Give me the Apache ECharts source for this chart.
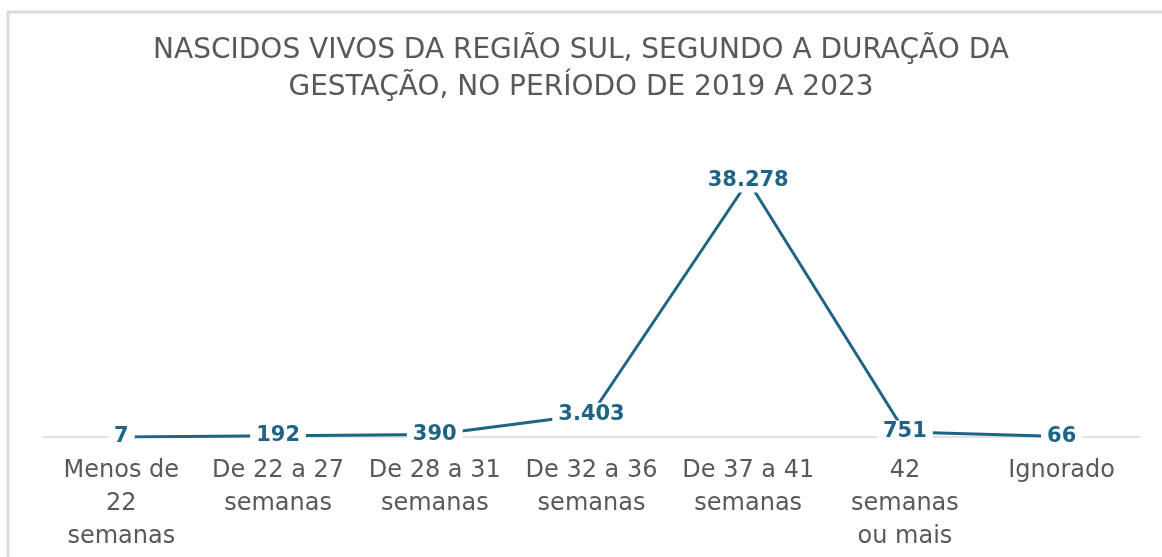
<!DOCTYPE html>
<html>
<head>
<meta charset="utf-8">
<script src="https://cdn.jsdelivr.net/npm/echarts@6/dist/echarts.min.js"></script>
<style>
  html, body { margin: 0; padding: 0; background: #ffffff; }
  #chart { width: 1162px; height: 557px; }
</style>
</head>
<body>
<div id="chart"></div>
<script>
  // categorias (duração da gestação)
  var categorias = [
    'Menos de\n22\nsemanas',
    'De 22 a 27\nsemanas',
    'De 28 a 31\nsemanas',
    'De 32 a 36\nsemanas',
    'De 37 a 41\nsemanas',
    '42\nsemanas\nou mais',
    'Ignorado'
  ];
  // nascidos vivos
  var nascidos = [7, 192, 390, 3403, 38278, 751, 66];

  var azul = '#1f6385';

  // separador de milhar com ponto
  function formatar(v) {
    return String(v).replace(/\B(?=(\d{3})+(?!\d))/g, '.');
  }

  var chart = echarts.init(document.getElementById('chart'));

  var option = {
    backgroundColor: '#ffffff',
    animation: false,
    // moldura
    graphic: [{
      type: 'rect',
      shape: { x: 8, y: 12, width: 1200, height: 600 },
      style: { fill: 'none', stroke: '#dcdcdc', lineWidth: 3 },
      silent: true
    }],
    title: {
      text: 'NASCIDOS VIVOS DA REGIÃO SUL, SEGUNDO A DURAÇÃO DA\nGESTAÇÃO, NO PERÍODO DE 2019 A 2023',
      left: 'center',
      top: 27,
      textStyle: {
        fontFamily: 'DejaVu Sans',
        fontSize: 28,
        fontWeight: 'normal',
        color: '#595959',
        lineHeight: 37
      }
    },
    grid: {
      left: 43,
      right: 22,
      top: 136,
      bottom: 120
    },
    xAxis: {
      type: 'category',
      data: categorias,
      boundaryGap: true,
      axisLine: { lineStyle: { color: '#d9d9d9', width: 1.5 } },
      axisTick: { show: false },
      axisLabel: {
        interval: 0,
        margin: 17,
        fontFamily: 'DejaVu Sans',
        fontSize: 24,
        lineHeight: 33,
        color: '#595959'
      }
    },
    yAxis: {
      type: 'value',
      min: 0,
      max: 45000,
      show: false,
      splitLine: { show: false }
    },
    series: [{
      type: 'line',
      data: nascidos,
      symbol: 'circle',
      symbolSize: 1,
      itemStyle: { color: azul },
      lineStyle: { color: azul, width: 3 },
      label: {
        show: true,
        position: 'inside',
        formatter: function (p) { return formatar(p.value); },
        fontFamily: 'DejaVu Sans',
        fontWeight: 'bold',
        fontSize: 21,
        color: azul,
        backgroundColor: '#ffffff',
        padding: [1, 6]
      }
    }]
  };

  chart.setOption(option);
</script>
</body>
</html>
